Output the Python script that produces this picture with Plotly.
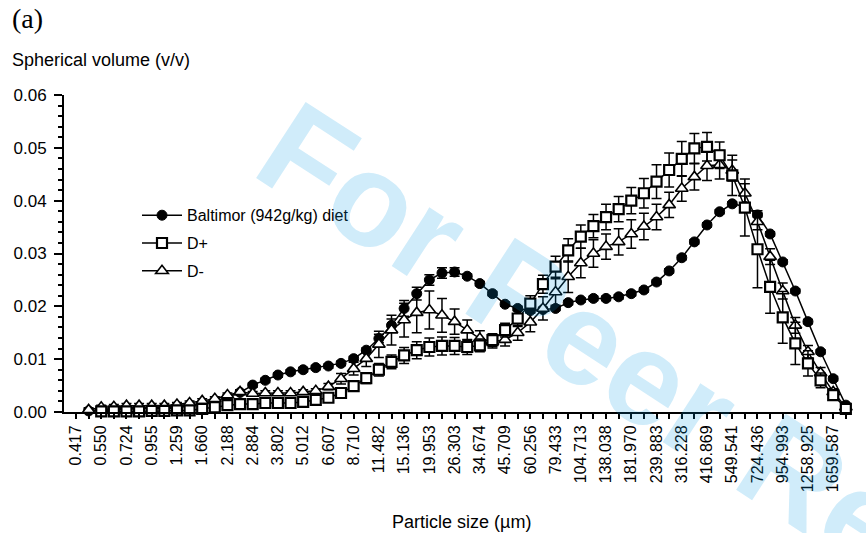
import plotly.graph_objects as go

# Particle size bins (µm) – categorical, log spaced
sizes = ["0.417", "0.479", "0.550", "0.631", "0.724", "0.832", "0.955", "1.096", "1.259", "1.445",
         "1.660", "1.905", "2.188", "2.512", "2.884", "3.311", "3.802", "4.365", "5.012", "5.754",
         "6.607", "7.586", "8.710", "10.000", "11.482", "13.183", "15.136", "17.378", "19.953", "22.909",
         "26.303", "30.200", "34.674", "39.811", "45.709", "52.481", "60.256", "69.183", "79.433", "91.201",
         "104.713", "120.226", "138.038", "158.489", "181.970", "208.930", "239.883", "275.423", "316.228", "363.078",
         "416.869", "478.630", "549.541", "630.957", "724.436", "831.764", "954.993", "1096.478", "1258.925", "1445.440",
         "1659.587", "1905.461"]
tick_labels = [s if i % 2 == 0 else "" for i, s in enumerate(sizes)]

baltimor = [None, 0.0002, 0.0003, 0.0004, 0.0005, 0.0006, 0.0007, 0.0008, 0.0010, 0.0012,
            0.0016, 0.0021, 0.0028, 0.0037, 0.0051, 0.0060, 0.0070, 0.0076, 0.0080, 0.0084,
            0.0087, 0.0092, 0.0101, 0.0117, 0.0139, 0.0164, 0.0196, 0.0224, 0.0250, 0.0263,
            0.0265, 0.0257, 0.0243, 0.0224, 0.0204, 0.0196, 0.0192, 0.0194, 0.0196, 0.0207,
            0.0212, 0.0215, 0.0215, 0.0218, 0.0224, 0.0231, 0.0246, 0.0267, 0.0292, 0.0322,
            0.0354, 0.0379, 0.0394, 0.0389, 0.0373, 0.0337, 0.0284, 0.0229, 0.0171, 0.0114,
            0.0063, 0.0013]
baltimor_err = [None] + [0.0004] * 23 + [0.0008, 0.0012, 0.0015, 0.0012, 0.0010, 0.0010, 0.0008] + [0.0004] * 31

d_plus = [None, None, 0.0001, 0.0001, 0.0001, 0.0001, 0.0002, 0.0002, 0.0003, 0.0003,
          0.0006, 0.0009, 0.0013, 0.0015, 0.0015, 0.0017, 0.0017, 0.0017, 0.0019, 0.0023,
          0.0027, 0.0036, 0.0049, 0.0064, 0.0080, 0.0095, 0.0107, 0.0117, 0.0123, 0.0125,
          0.0125, 0.0123, 0.0126, 0.0136, 0.0155, 0.0177, 0.0205, 0.0242, 0.0275, 0.0306,
          0.0332, 0.0352, 0.0369, 0.0384, 0.0400, 0.0414, 0.0436, 0.0458, 0.0479, 0.0499,
          0.0502, 0.0486, 0.0448, 0.0387, 0.0308, 0.0237, 0.0179, 0.0130, 0.0092, 0.0060,
          0.0032, 0.0006]
d_plus_err = [None, None] + [0.0003] * 18 + [
    0.0005, 0.0006, 0.0008, 0.0010, 0.0012, 0.0013, 0.0015, 0.0016, 0.0017, 0.0017,
    0.0016, 0.0014, 0.0012, 0.0012, 0.0013, 0.0015, 0.0015, 0.0017, 0.0020, 0.0022,
    0.0022, 0.0022, 0.0024, 0.0024, 0.0025, 0.0028, 0.0032, 0.0032, 0.0033, 0.0028,
    0.0027, 0.0025, 0.0038, 0.0054, 0.0073, 0.0050, 0.0049, 0.0040, 0.0024, 0.0014,
    0.0008, 0.0004]

d_minus = [None, 0.0004, 0.0009, 0.0010, 0.0012, 0.0012, 0.0012, 0.0012, 0.0014, 0.0017,
           0.0021, 0.0025, 0.0032, 0.0038, 0.0035, 0.0036, 0.0036, 0.0036, 0.0038, 0.0040,
           0.0048, 0.0063, 0.0082, 0.0101, 0.0128, 0.0155, 0.0174, 0.0188, 0.0193, 0.0183,
           0.0171, 0.0155, 0.0139, 0.0133, 0.0137, 0.0150, 0.0170, 0.0196, 0.0227, 0.0256,
           0.0282, 0.0300, 0.0313, 0.0322, 0.0337, 0.0351, 0.0369, 0.0392, 0.0423, 0.0445,
           0.0466, 0.0468, 0.0457, 0.0414, 0.0360, 0.0294, 0.0229, 0.0164, 0.0114, 0.0074,
           0.0038, 0.0009]
d_minus_err = [None] + [0.0004] * 19 + [
    0.0006, 0.0010, 0.0012, 0.0015, 0.0025, 0.0028, 0.0032, 0.0038, 0.0036, 0.0032,
    0.0024, 0.0019, 0.0015, 0.0012, 0.0012, 0.0014, 0.0018, 0.0022, 0.0025, 0.0030,
    0.0028, 0.0026, 0.0024, 0.0025, 0.0027, 0.0025, 0.0024, 0.0024, 0.0024, 0.0025,
    0.0028, 0.0027, 0.0020, 0.0018, 0.0015, 0.0015, 0.0015, 0.0015, 0.0012, 0.0010,
    0.0006, 0.0003]

FONT = "Liberation Sans, Arial, Helvetica, sans-serif"

def err(arr):
    return dict(type="data", array=arr, visible=True, color="black", thickness=1.5, width=5)

fig = go.Figure()
fig.add_trace(go.Scatter(
    x=sizes, y=baltimor, name="Baltimor (942g/kg) diet", mode="lines+markers",
    line=dict(color="black", width=1.5),
    marker=dict(symbol="circle", size=10, color="black", line=dict(color="black", width=1)),
    error_y=err(baltimor_err), cliponaxis=False, legendgroup="a", legendrank=1))
fig.add_trace(go.Scatter(
    x=sizes, y=d_minus, name="D-", mode="lines+markers",
    line=dict(color="black", width=1.5),
    marker=dict(symbol="triangle-up", size=11, color="white", line=dict(color="black", width=1.6)),
    error_y=err(d_minus_err), cliponaxis=False, legendgroup="c", legendrank=3))
fig.add_trace(go.Scatter(
    x=sizes, y=d_plus, name="D+", mode="lines+markers",
    line=dict(color="black", width=1.5),
    marker=dict(symbol="square", size=10, color="white", line=dict(color="black", width=2.2)),
    error_y=err(d_plus_err), cliponaxis=False, legendgroup="b", legendrank=2))

fig.update_layout(
    width=866, height=533,
    margin=dict(l=64, r=16, t=95, b=121),
    paper_bgcolor="white", plot_bgcolor="white",
    font=dict(family=FONT, color="black"),
    showlegend=True,
    legend=dict(x=(137 - 64) / 786, y=(411.7 - 198) / 317, xanchor="left", yanchor="top",
                font=dict(size=16, family=FONT), bgcolor="rgba(0,0,0,0)",
                traceorder="grouped", tracegroupgap=4, itemwidth=40),
    xaxis=dict(type="category", categoryorder="array", categoryarray=sizes,
               tickmode="array", tickvals=sizes, ticktext=tick_labels, tickangle=-90,
               ticks="outside", ticklen=5, tickwidth=1.5, tickcolor="black",
               showline=True, linecolor="black", linewidth=2,
               showgrid=False, zeroline=False, range=[-0.95, 61.33],
               tickfont=dict(size=16, family=FONT)),
    yaxis=dict(range=[0, 0.06], dtick=0.01, tick0=0, tickformat=".2f",
               ticks="outside", ticklen=8, tickwidth=1.5, tickcolor="black",
               minor=dict(dtick=0.002, ticks="outside", ticklen=4, tickwidth=1.5, tickcolor="black"),
               showline=True, linecolor="black", linewidth=2,
               showgrid=False, zeroline=False, ticklabelstandoff=4,
               tickfont=dict(size=17, family=FONT)),
)

fig.add_annotation(text="(a)", xref="paper", yref="paper", x=(10 - 64) / 786, y=(411.7 - 18) / 317,
                   xanchor="left", yanchor="middle", showarrow=False,
                   font=dict(family="Liberation Serif, Times New Roman, serif", size=28))
fig.add_annotation(text="Spherical volume (v/v)", xref="paper", yref="paper", x=(10 - 64) / 786,
                   y=(411.7 - 60) / 317, xanchor="left", yanchor="middle", showarrow=False,
                   font=dict(size=18, family=FONT))
fig.add_annotation(text="Particle size (µm)", xref="paper", yref="paper", x=(461 - 64) / 786,
                   y=(411.7 - 522) / 317, xanchor="center", yanchor="middle", showarrow=False,
                   font=dict(size=18, family=FONT))
# watermark
fig.add_annotation(text="<b>For Peer Review</b>", xref="paper", yref="paper",
                   x=(704 - 64) / 786, y=(411.7 - 414) / 317, xanchor="center", yanchor="middle",
                   showarrow=False, textangle=33,
                   font=dict(size=132, family=FONT, color="rgba(5,155,230,0.19)"))

fig.write_html("out.html", config={"displayModeBar": False},
               post_script="document.body.style.margin='0';document.body.style.padding='0';")
